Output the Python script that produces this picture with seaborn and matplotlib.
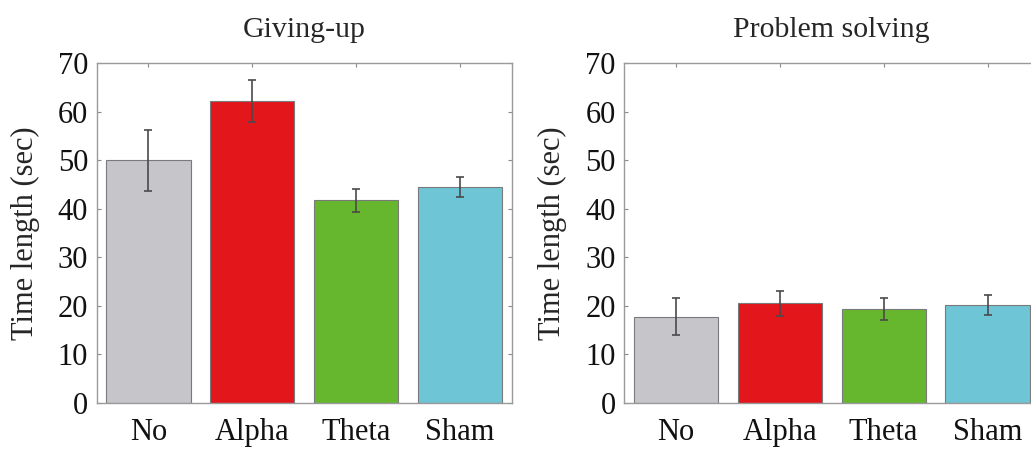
import matplotlib
matplotlib.use("Agg")
import matplotlib.pyplot as plt
import seaborn as sns
import pandas as pd

# Conditions and per-condition means / error bars (seconds)
conditions = ["No", "Alpha", "Theta", "Sham"]
giving_up_mean = [50.0, 62.2, 41.7, 44.5]
giving_up_err = [6.3, 4.4, 2.3, 2.1]
solving_mean = [17.8, 20.5, 19.4, 20.2]
solving_err = [3.8, 2.6, 2.3, 2.0]
panel_titles = ["Giving-up", "Problem solving"]
bar_colors = ["#C6C6CA", "#E3161B", "#66B72E", "#6EC5D6"]

sns.set_theme(style="white")
plt.rcParams["font.family"] = ["Liberation Serif", "DejaVu Serif"]

fig = plt.figure(figsize=(10.31, 4.5), dpi=100)
ax_left = fig.add_axes([0.0936, 0.1044, 0.403, 0.7556])
ax_right = fig.add_axes([0.6052, 0.1044, 0.403, 0.7556])

panels = [
    (ax_left, giving_up_mean, giving_up_err, panel_titles[0]),
    (ax_right, solving_mean, solving_err, panel_titles[1]),
]

for ax, means, errs, title in panels:
    df = pd.DataFrame({"condition": conditions, "time": means})
    sns.barplot(data=df, x="condition", y="time", hue="condition",
                palette=bar_colors, order=conditions, hue_order=conditions,
                errorbar=None, width=0.81, saturation=1.0, legend=False,
                edgecolor="#7a7a7a", linewidth=0.8, ax=ax)
    ax.errorbar(range(len(conditions)), means, yerr=errs, fmt="none",
                ecolor="#4a4a4a", elinewidth=1.2, capsize=3, capthick=1.2)
    ax.set_xlim(-0.5, 3.5)
    ax.set_ylim(0, 70)
    ax.set_yticks(range(0, 71, 10))
    ax.set_xlabel("")
    ax.set_ylabel("Time length (sec)", fontsize=22, labelpad=13)
    ax.set_title(title, fontsize=21.5, pad=19)
    ax.tick_params(axis="both", which="major", direction="in", length=3,
                   width=0.8, color="#8a8a8a", labelsize=22,
                   top=True, right=True, bottom=True, left=True,
                   labelcolor="#111111", pad=6)
    ax.tick_params(axis="x", pad=11)
    for s in ax.spines.values():
        s.set_visible(True)
        s.set_color("#9a9a9a")
        s.set_linewidth(1.0)

fig.savefig("out.png", dpi=100, facecolor="white")
